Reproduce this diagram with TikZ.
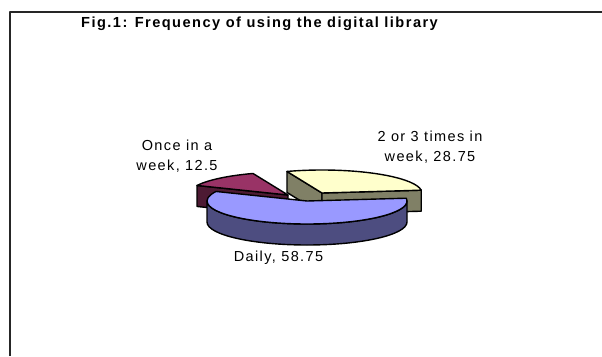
\documentclass[tikz,border=0pt]{standalone}
\usepackage{fontspec}
\setmainfont{Liberation Sans}
\newfontfamily\labelfont{Liberation Sans}[LetterSpace=9.5]
\newfontfamily\titlefont{Liberation Sans}[LetterSpace=10]
\usetikzlibrary{calc}

\definecolor{dailytop}{HTML}{9999FF}
\definecolor{dailyside}{HTML}{4D4D80}
\definecolor{plumtop}{HTML}{993366}
\definecolor{plumside}{HTML}{4D1A33}
\definecolor{ivorytop}{HTML}{FFFFCC}
\definecolor{ivoryside}{HTML}{808066}

\begin{document}
\begin{tikzpicture}[x=1pt, y=-1pt, line join=round,
  edge/.style={draw=black, line width=1.4pt},
  lbl/.style={font=\labelfont\fontsize{14.5}{19.3}\selectfont, inner sep=0pt, align=center},
  ttl/.style={font=\titlefont\bfseries\fontsize{14.6}{17}\selectfont, inner sep=0pt}]

\fill[white] (0,0) rectangle (602,356);
\useasboundingbox (0,0) rectangle (602,356);

% chart frame (continues past the page edges)
\draw[line width=1.5pt, black!85] (10,356) -- (10,12) -- (602,12);

\node[ttl, anchor=base] (title) at (259.5,27.7) {Fig.1: Frequency of using the digital library};

% slice "2 or 3 times in week"
\coordinate (O) at (322,193);
\coordinate (Oa) at ($(O)+(249.5:100 and 23)$);
\coordinate (Ob) at ($(O)+(353:100 and 23)$);
\filldraw[edge, fill=ivoryside] (O) -- (Oa) -- ($(Oa)+(0,21)$) -- ($(O)+(0,21)$) -- cycle;
\filldraw[edge, fill=ivoryside] (O) -- (Ob) -- ($(Ob)+(0,21)$) -- ($(O)+(0,21)$) -- cycle;
\filldraw[edge, fill=ivorytop] (O) -- (Oa) arc (249.5:353:100 and 23) -- cycle;

% slice "Once in a week"
\coordinate (M) at (288,195);
\coordinate (Ma) at ($(M)+(204.5:100 and 23)$);
\filldraw[edge, fill=plumside] (M) -- (Ma) -- ($(Ma)+(0,21)$) -- ($(M)+(0,21)$) -- cycle;
\filldraw[edge, fill=plumtop] (M) -- (Ma) arc (204.5:249.5:100 and 23) -- cycle;

% slice "Daily"
\coordinate (D) at (307,201);
\filldraw[edge, fill=dailyside] ($(D)+(0:100 and 23)$) arc (0:180:100 and 23) -- ++(0,21) arc (180:0:100 and 23) -- cycle;
\filldraw[edge, fill=dailytop] (D) -- ($(D)+(353:100 and 23)$) arc (353:564.5:100 and 23) -- cycle;

% data labels (base anchor sits on the last line)
\node[lbl, anchor=base] (ldaily) at (278.5,261.7) {Daily, 58.75};
\node[lbl, anchor=base] (lonce) at (177,170) {Once in a\\week, 12.5};
\node[lbl, anchor=base] (ltwice) at (430,161) {2 or 3 times in\\week, 28.75};

\end{tikzpicture}
\end{document}
